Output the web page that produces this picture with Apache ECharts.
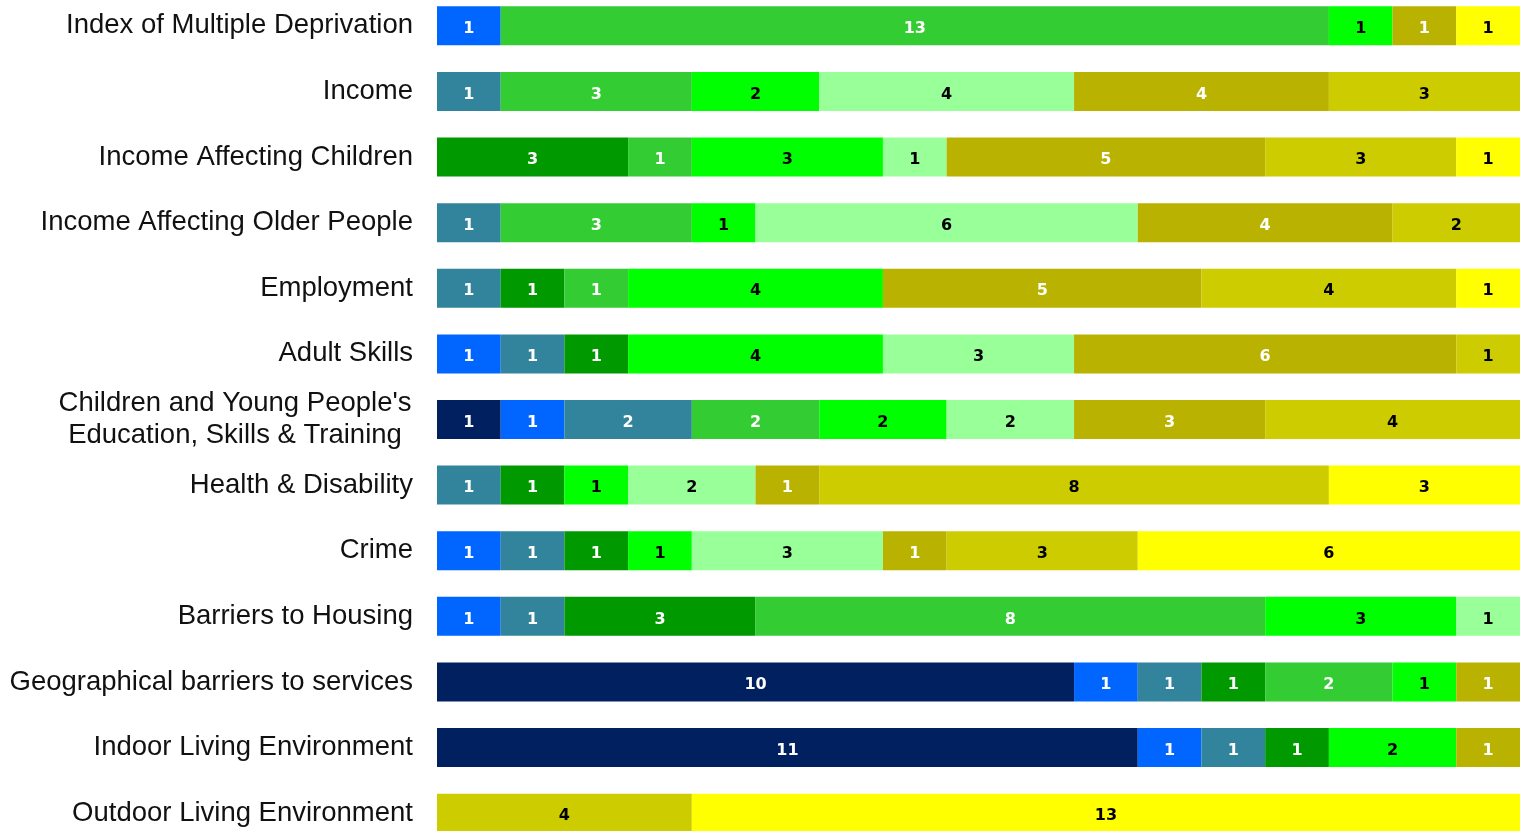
<!DOCTYPE html>
<html>
<head>
<meta charset="utf-8">
<script src="https://cdn.jsdelivr.net/npm/echarts@6/dist/echarts.min.js"></script>
<style>
html,body{margin:0;padding:0;background:#fff;overflow:hidden;width:1526px;height:831px;}
#chart{position:absolute;left:0;top:-7px;width:1526px;height:853px;}
</style>
</head>
<body>
<div id="chart"></div>
<script>
const categories = [
  "Index of Multiple Deprivation",
  "Income",
  "Income Affecting Children",
  "Income Affecting Older People",
  "Employment",
  "Adult Skills",
  "Children and Young People's\nEducation, Skills & Training",
  "Health & Disability",
  "Crime",
  "Barriers to Housing",
  "Geographical barriers to services",
  "Indoor Living Environment",
  "Outdoor Living Environment"
];

const seriesNames = ["Decile 1","Decile 2","Decile 3","Decile 4","Decile 5","Decile 6","Decile 7","Decile 8","Decile 9","Decile 10"];

// values per category row, one array per decile series
const decile1  = [0, 0, 0, 0, 0, 0, 1, 0, 0, 0, 10, 11, 0];
const decile2  = [1, 0, 0, 0, 0, 1, 1, 0, 1, 1, 1, 1, 0];
const decile3  = [0, 1, 0, 1, 1, 1, 2, 1, 1, 1, 1, 1, 0];
const decile4  = [0, 0, 3, 0, 1, 1, 0, 1, 1, 3, 1, 1, 0];
const decile5  = [13, 3, 1, 3, 1, 0, 2, 0, 0, 8, 2, 0, 0];
const decile6  = [1, 2, 3, 1, 4, 4, 2, 1, 1, 3, 1, 2, 0];
const decile7  = [0, 4, 1, 6, 0, 3, 2, 2, 3, 1, 0, 0, 0];
const decile8  = [1, 4, 5, 4, 5, 6, 3, 1, 1, 0, 1, 1, 0];
const decile9  = [0, 3, 3, 2, 4, 1, 4, 8, 3, 0, 0, 0, 4];
const decile10 = [1, 0, 1, 0, 1, 0, 0, 3, 6, 0, 0, 0, 13];

const seriesValues = [decile1, decile2, decile3, decile4, decile5, decile6, decile7, decile8, decile9, decile10];

const colors = ['#002060', '#0066FF', '#31849B', '#009900', '#33CC33', '#00FF00', '#99FF99', '#BAB200', '#CCCC00', '#FFFF00'];
const labelColors = ['#ffffff', '#ffffff', '#ffffff', '#ffffff', '#ffffff', '#000000', '#000000', '#ffffff', '#000000', '#000000'];

const chart = echarts.init(document.getElementById('chart'), null, {renderer: 'canvas'});

const series = seriesValues.map((vals, i) => ({
  name: seriesNames[i],
  type: 'bar',
  stack: 'total',
  barWidth: 39,
  data: vals,
  itemStyle: { color: colors[i] },
  label: {
    show: true,
    position: 'inside',
    offset: [0, 3],
    color: labelColors[i],
    fontFamily: 'DejaVu Sans',
    fontWeight: 'bold',
    fontSize: 16,
    formatter: p => (p.value ? String(p.value) : '')
  },
  emphasis: { disabled: true }
}));

chart.setOption({
  animation: false,
  backgroundColor: '#ffffff',
  grid: { left: 437, right: 6, top: 0, bottom: 0, containLabel: false },
  xAxis: {
    type: 'value',
    min: 0,
    max: 17,
    show: false
  },
  yAxis: {
    type: 'category',
    inverse: true,
    data: categories,
    axisLine: { show: false },
    axisTick: { show: false },
    splitLine: { show: false },
    axisLabel: {
      margin: 24,
      color: '#111111',
      fontFamily: 'Liberation Sans',
      fontSize: 27.5,
      lineHeight: 32,
      formatter: v => {
        if (v.indexOf('\n') >= 0) {
          return v.split('\n').map(l => '{c|' + l + '}').join('\n');
        }
        return v;
      },
      rich: {
        c: { width: 356, align: 'center', fontFamily: 'Liberation Sans', fontSize: 27.5, lineHeight: 32, color: '#111111' }
      }
    }
  },
  series: series
});
</script>
</body>
</html>
